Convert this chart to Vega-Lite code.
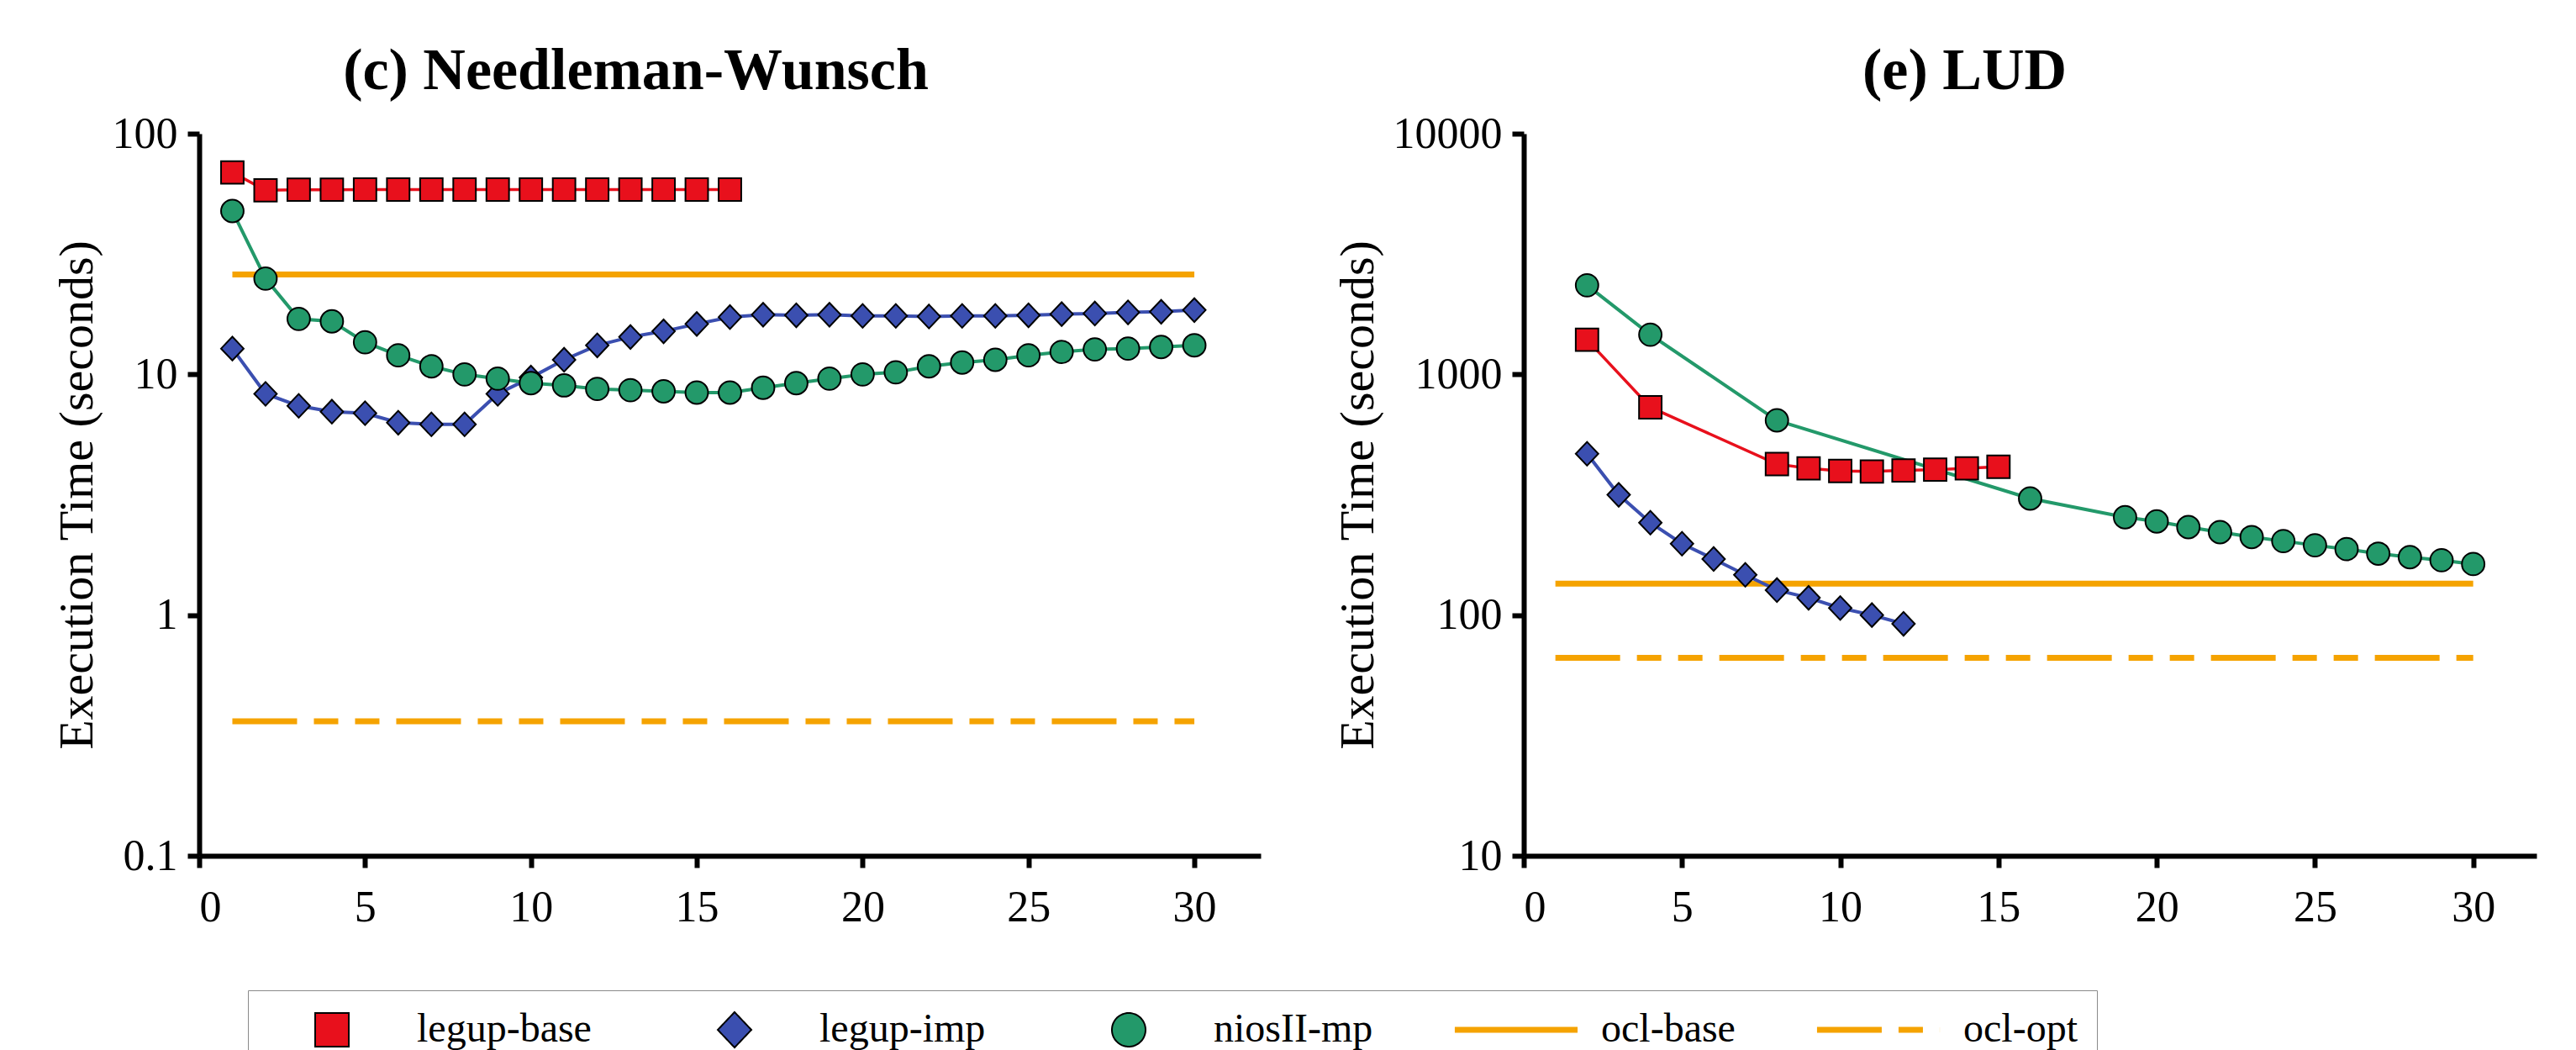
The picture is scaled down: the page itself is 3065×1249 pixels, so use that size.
{
  "$schema": "https://vega.github.io/schema/vega-lite/v6.json",
  "padding": {"left": 63, "top": 50, "right": 5, "bottom": 0},
  "background": "white",
  "config": {
    "font": "Liberation Serif",
    "view": {"stroke": null},
    "axis": {
      "domainColor": "black", "domainWidth": 6, "tickColor": "black", "tickWidth": 6, "tickSize": 14,
      "labelFont": "Liberation Serif", "labelFontSize": 52, "labelColor": "black", "labelPadding": 12,
      "titleFont": "Liberation Serif", "titleFontSize": 58, "titleFontWeight": "normal", "titleColor": "black", "titlePadding": 12,
      "grid": false
    },
    "title": {"font": "Liberation Serif", "fontSize": 70, "fontWeight": "bold", "color": "black", "anchor": "middle", "frame": "bounds", "offset": 12}
  },
  "datasets": {
    "nw": [
      {"series": "legup-base", "threads": 1, "time": 69},
      {"series": "legup-base", "threads": 2, "time": 58.2},
      {"series": "legup-base", "threads": 3, "time": 58.5},
      {"series": "legup-base", "threads": 4, "time": 58.5},
      {"series": "legup-base", "threads": 5, "time": 58.6},
      {"series": "legup-base", "threads": 6, "time": 58.6},
      {"series": "legup-base", "threads": 7, "time": 58.6},
      {"series": "legup-base", "threads": 8, "time": 58.6},
      {"series": "legup-base", "threads": 9, "time": 58.6},
      {"series": "legup-base", "threads": 10, "time": 58.6},
      {"series": "legup-base", "threads": 11, "time": 58.6},
      {"series": "legup-base", "threads": 12, "time": 58.6},
      {"series": "legup-base", "threads": 13, "time": 58.6},
      {"series": "legup-base", "threads": 14, "time": 58.6},
      {"series": "legup-base", "threads": 15, "time": 58.6},
      {"series": "legup-base", "threads": 16, "time": 58.6},
      {"series": "legup-imp", "threads": 1, "time": 12.8},
      {"series": "legup-imp", "threads": 2, "time": 8.3},
      {"series": "legup-imp", "threads": 3, "time": 7.4},
      {"series": "legup-imp", "threads": 4, "time": 7.0},
      {"series": "legup-imp", "threads": 5, "time": 6.9},
      {"series": "legup-imp", "threads": 6, "time": 6.3},
      {"series": "legup-imp", "threads": 7, "time": 6.2},
      {"series": "legup-imp", "threads": 8, "time": 6.2},
      {"series": "legup-imp", "threads": 9, "time": 8.3},
      {"series": "legup-imp", "threads": 10, "time": 9.7},
      {"series": "legup-imp", "threads": 11, "time": 11.5},
      {"series": "legup-imp", "threads": 12, "time": 13.2},
      {"series": "legup-imp", "threads": 13, "time": 14.3},
      {"series": "legup-imp", "threads": 14, "time": 15.1},
      {"series": "legup-imp", "threads": 15, "time": 16.2},
      {"series": "legup-imp", "threads": 16, "time": 17.3},
      {"series": "legup-imp", "threads": 17, "time": 17.7},
      {"series": "legup-imp", "threads": 18, "time": 17.6},
      {"series": "legup-imp", "threads": 19, "time": 17.7},
      {"series": "legup-imp", "threads": 20, "time": 17.5},
      {"series": "legup-imp", "threads": 21, "time": 17.5},
      {"series": "legup-imp", "threads": 22, "time": 17.4},
      {"series": "legup-imp", "threads": 23, "time": 17.5},
      {"series": "legup-imp", "threads": 24, "time": 17.5},
      {"series": "legup-imp", "threads": 25, "time": 17.6},
      {"series": "legup-imp", "threads": 26, "time": 17.8},
      {"series": "legup-imp", "threads": 27, "time": 17.9},
      {"series": "legup-imp", "threads": 28, "time": 18.1},
      {"series": "legup-imp", "threads": 29, "time": 18.2},
      {"series": "legup-imp", "threads": 30, "time": 18.5},
      {"series": "niosII-mp", "threads": 1, "time": 47.7},
      {"series": "niosII-mp", "threads": 2, "time": 25.0},
      {"series": "niosII-mp", "threads": 3, "time": 17.0},
      {"series": "niosII-mp", "threads": 4, "time": 16.6},
      {"series": "niosII-mp", "threads": 5, "time": 13.6},
      {"series": "niosII-mp", "threads": 6, "time": 12.0},
      {"series": "niosII-mp", "threads": 7, "time": 10.8},
      {"series": "niosII-mp", "threads": 8, "time": 10.0},
      {"series": "niosII-mp", "threads": 9, "time": 9.6},
      {"series": "niosII-mp", "threads": 10, "time": 9.2},
      {"series": "niosII-mp", "threads": 11, "time": 9.0},
      {"series": "niosII-mp", "threads": 12, "time": 8.7},
      {"series": "niosII-mp", "threads": 13, "time": 8.6},
      {"series": "niosII-mp", "threads": 14, "time": 8.5},
      {"series": "niosII-mp", "threads": 15, "time": 8.4},
      {"series": "niosII-mp", "threads": 16, "time": 8.4},
      {"series": "niosII-mp", "threads": 17, "time": 8.8},
      {"series": "niosII-mp", "threads": 18, "time": 9.2},
      {"series": "niosII-mp", "threads": 19, "time": 9.6},
      {"series": "niosII-mp", "threads": 20, "time": 10.0},
      {"series": "niosII-mp", "threads": 21, "time": 10.2},
      {"series": "niosII-mp", "threads": 22, "time": 10.8},
      {"series": "niosII-mp", "threads": 23, "time": 11.2},
      {"series": "niosII-mp", "threads": 24, "time": 11.5},
      {"series": "niosII-mp", "threads": 25, "time": 12.0},
      {"series": "niosII-mp", "threads": 26, "time": 12.4},
      {"series": "niosII-mp", "threads": 27, "time": 12.7},
      {"series": "niosII-mp", "threads": 28, "time": 12.8},
      {"series": "niosII-mp", "threads": 29, "time": 13.0},
      {"series": "niosII-mp", "threads": 30, "time": 13.2}
    ],
    "nw_ocl": [
      {"series": "ocl-base", "threads": 1, "time": 26},
      {"series": "ocl-base", "threads": 30, "time": 26},
      {"series": "ocl-opt", "threads": 1, "time": 0.362},
      {"series": "ocl-opt", "threads": 30, "time": 0.362}
    ],
    "lud": [
      {"series": "legup-base", "threads": 2, "time": 1393},
      {"series": "legup-base", "threads": 4, "time": 730},
      {"series": "legup-base", "threads": 8, "time": 424},
      {"series": "legup-base", "threads": 9, "time": 407},
      {"series": "legup-base", "threads": 10, "time": 397},
      {"series": "legup-base", "threads": 11, "time": 395},
      {"series": "legup-base", "threads": 12, "time": 399},
      {"series": "legup-base", "threads": 13, "time": 402},
      {"series": "legup-base", "threads": 14, "time": 407},
      {"series": "legup-base", "threads": 15, "time": 413},
      {"series": "legup-imp", "threads": 2, "time": 468},
      {"series": "legup-imp", "threads": 3, "time": 316},
      {"series": "legup-imp", "threads": 4, "time": 242},
      {"series": "legup-imp", "threads": 5, "time": 198},
      {"series": "legup-imp", "threads": 6, "time": 171},
      {"series": "legup-imp", "threads": 7, "time": 147},
      {"series": "legup-imp", "threads": 8, "time": 127},
      {"series": "legup-imp", "threads": 9, "time": 118},
      {"series": "legup-imp", "threads": 10, "time": 107},
      {"series": "legup-imp", "threads": 11, "time": 100},
      {"series": "legup-imp", "threads": 12, "time": 92},
      {"series": "niosII-mp", "threads": 2, "time": 2345},
      {"series": "niosII-mp", "threads": 4, "time": 1462},
      {"series": "niosII-mp", "threads": 8, "time": 644},
      {"series": "niosII-mp", "threads": 16, "time": 305},
      {"series": "niosII-mp", "threads": 19, "time": 255},
      {"series": "niosII-mp", "threads": 20, "time": 245},
      {"series": "niosII-mp", "threads": 21, "time": 232},
      {"series": "niosII-mp", "threads": 22, "time": 221},
      {"series": "niosII-mp", "threads": 23, "time": 211},
      {"series": "niosII-mp", "threads": 24, "time": 203},
      {"series": "niosII-mp", "threads": 25, "time": 195},
      {"series": "niosII-mp", "threads": 26, "time": 188},
      {"series": "niosII-mp", "threads": 27, "time": 180},
      {"series": "niosII-mp", "threads": 28, "time": 174},
      {"series": "niosII-mp", "threads": 29, "time": 169},
      {"series": "niosII-mp", "threads": 30, "time": 163}
    ],
    "lud_ocl": [
      {"series": "ocl-base", "threads": 1, "time": 135},
      {"series": "ocl-base", "threads": 30, "time": 135},
      {"series": "ocl-opt", "threads": 1, "time": 66.5},
      {"series": "ocl-opt", "threads": 30, "time": 66.5}
    ]
  },
  "resolve": {
    "scale": {"stroke": "shared", "strokeDash": "shared", "strokeWidth": "shared", "fill": "shared", "shape": "shared", "x": "independent", "y": "independent"},
    "legend": {"stroke": "shared", "strokeDash": "shared", "strokeWidth": "shared", "fill": "shared", "shape": "shared"}
  },
  "spacing": 87,
  "hconcat": [
    {
      "width": 1263, "height": 859,
      "title": {"text": "(c) Needleman-Wunsch", "dx": -25},
      "layer": [
        {
          "data": {"name": "nw_ocl"},
          "mark": {"type": "line", "strokeCap": "butt"},
          "encoding": {
            "x": {"field": "threads", "type": "quantitative", "scale": {"domain": [0, 32], "nice": false}, "axis": {"values": [0, 5, 10, 15, 20, 25, 30], "title": null, "labelPadding": 22}},
            "y": {"field": "time", "type": "quantitative", "scale": {"type": "log", "domain": [0.1, 100], "nice": false}, "axis": {"values": [0.1, 1, 10, 100], "format": "~g", "title": "Execution Time (seconds)"}},
            "stroke": {"field": "series", "type": "nominal", "scale": {"domain": ["legup-base", "legup-imp", "niosII-mp", "ocl-base", "ocl-opt"], "range": ["black", "black", "black", "#f5a300", "#f5a300"]}},
            "strokeDash": {"field": "series", "type": "nominal", "scale": {"domain": ["legup-base", "legup-imp", "niosII-mp", "ocl-base", "ocl-opt"], "range": [[1, 0], [1, 0], [1, 0], [1, 0], [77, 20, 29, 20, 29, 20]]}},
            "strokeWidth": {"field": "series", "type": "nominal", "scale": {"type": "ordinal", "domain": ["legup-base", "legup-imp", "niosII-mp", "ocl-base", "ocl-opt"], "range": [2, 2, 2, 7, 7]}}
          }
        },
        {
          "data": {"name": "nw"},
          "transform": [{"filter": "datum.series === 'legup-base'"}],
          "mark": {"type": "line", "color": "#e8101c", "strokeWidth": 3.5},
          "encoding": {"x": {"field": "threads", "type": "quantitative"}, "y": {"field": "time", "type": "quantitative"}}
        },
        {
          "data": {"name": "nw"},
          "transform": [{"filter": "datum.series === 'legup-imp'"}],
          "mark": {"type": "line", "color": "#3b4fb0", "strokeWidth": 4},
          "encoding": {"x": {"field": "threads", "type": "quantitative"}, "y": {"field": "time", "type": "quantitative"}}
        },
        {
          "data": {"name": "nw"},
          "transform": [{"filter": "datum.series === 'niosII-mp'"}],
          "mark": {"type": "line", "color": "#23996a", "strokeWidth": 4},
          "encoding": {"x": {"field": "threads", "type": "quantitative"}, "y": {"field": "time", "type": "quantitative"}}
        },
        {
          "data": {"name": "nw"},
          "mark": {"type": "point", "filled": true, "opacity": 1, "size": 800},
          "encoding": {
            "x": {"field": "threads", "type": "quantitative"},
            "y": {"field": "time", "type": "quantitative"},
            "fill": {
              "field": "series", "type": "nominal",
              "scale": {"domain": ["legup-base", "legup-imp", "niosII-mp", "ocl-base", "ocl-opt"], "range": ["#e8101c", "#3b4fb0", "#23996a", "transparent", "transparent"]},
              "legend": {
                "orient": "none", "legendX": 58, "legendY": 1019,
                "direction": "horizontal", "columns": 5, "title": null,
                "symbolSize": 1773, "symbolOffset": 52, "clipHeight": 48,
                "labelFont": "Liberation Serif", "labelFontSize": 48, "labelColor": "black", "labelOffset": 76, "labelLimit": 600,
                "columnPadding": 93, "padding": 23, "strokeColor": "#8a8a8a"
              }
            },
            "shape": {"field": "series", "type": "nominal", "scale": {"domain": ["legup-base", "legup-imp", "niosII-mp", "ocl-base", "ocl-opt"], "range": ["M-0.95,-0.95H0.95V0.95H-0.95Z", "M0,-1L0.95,0L0,1L-0.95,0Z", "M-0.95,0A0.95,0.95 0 1,0 0.95,0A0.95,0.95 0 1,0 -0.95,0Z", "M-3.47,0H3.47", "M-3.47,0H3.47"]}},
            "stroke": {"field": "series", "type": "nominal", "scale": {"domain": ["legup-base", "legup-imp", "niosII-mp", "ocl-base", "ocl-opt"], "range": ["black", "black", "black", "#f5a300", "#f5a300"]}},
            "strokeWidth": {"field": "series", "type": "nominal", "scale": {"type": "ordinal", "domain": ["legup-base", "legup-imp", "niosII-mp", "ocl-base", "ocl-opt"], "range": [2, 2, 2, 7, 7]}}
          }
        }
      ]
    },
    {
      "width": 1205, "height": 859,
      "title": {"text": "(e) LUD", "dx": 35},
      "layer": [
        {
          "data": {"name": "lud_ocl"},
          "mark": {"type": "line", "strokeCap": "butt"},
          "encoding": {
            "x": {"field": "threads", "type": "quantitative", "scale": {"domain": [0, 32], "nice": false}, "axis": {"values": [0, 5, 10, 15, 20, 25, 30], "title": null, "labelPadding": 22}},
            "y": {"field": "time", "type": "quantitative", "scale": {"type": "log", "domain": [10, 10000], "nice": false}, "axis": {"values": [10, 100, 1000, 10000], "format": "~g", "title": "Execution Time (seconds)"}},
            "stroke": {"field": "series", "type": "nominal", "scale": {"domain": ["legup-base", "legup-imp", "niosII-mp", "ocl-base", "ocl-opt"], "range": ["black", "black", "black", "#f5a300", "#f5a300"]}},
            "strokeDash": {"field": "series", "type": "nominal", "scale": {"domain": ["legup-base", "legup-imp", "niosII-mp", "ocl-base", "ocl-opt"], "range": [[1, 0], [1, 0], [1, 0], [1, 0], [77, 20, 29, 20, 29, 20]]}},
            "strokeWidth": {"field": "series", "type": "nominal", "scale": {"type": "ordinal", "domain": ["legup-base", "legup-imp", "niosII-mp", "ocl-base", "ocl-opt"], "range": [2, 2, 2, 7, 7]}}
          }
        },
        {
          "data": {"name": "lud"},
          "transform": [{"filter": "datum.series === 'legup-base'"}],
          "mark": {"type": "line", "color": "#e8101c", "strokeWidth": 3.5},
          "encoding": {"x": {"field": "threads", "type": "quantitative"}, "y": {"field": "time", "type": "quantitative"}}
        },
        {
          "data": {"name": "lud"},
          "transform": [{"filter": "datum.series === 'legup-imp'"}],
          "mark": {"type": "line", "color": "#3b4fb0", "strokeWidth": 4},
          "encoding": {"x": {"field": "threads", "type": "quantitative"}, "y": {"field": "time", "type": "quantitative"}}
        },
        {
          "data": {"name": "lud"},
          "transform": [{"filter": "datum.series === 'niosII-mp'"}],
          "mark": {"type": "line", "color": "#23996a", "strokeWidth": 4},
          "encoding": {"x": {"field": "threads", "type": "quantitative"}, "y": {"field": "time", "type": "quantitative"}}
        },
        {
          "data": {"name": "lud"},
          "mark": {"type": "point", "filled": true, "opacity": 1, "size": 800},
          "encoding": {
            "x": {"field": "threads", "type": "quantitative"},
            "y": {"field": "time", "type": "quantitative"},
            "fill": {"field": "series", "type": "nominal", "scale": {"domain": ["legup-base", "legup-imp", "niosII-mp", "ocl-base", "ocl-opt"], "range": ["#e8101c", "#3b4fb0", "#23996a", "transparent", "transparent"]}},
            "shape": {"field": "series", "type": "nominal", "scale": {"domain": ["legup-base", "legup-imp", "niosII-mp", "ocl-base", "ocl-opt"], "range": ["M-0.95,-0.95H0.95V0.95H-0.95Z", "M0,-1L0.95,0L0,1L-0.95,0Z", "M-0.95,0A0.95,0.95 0 1,0 0.95,0A0.95,0.95 0 1,0 -0.95,0Z", "M-3.47,0H3.47", "M-3.47,0H3.47"]}},
            "stroke": {"field": "series", "type": "nominal", "scale": {"domain": ["legup-base", "legup-imp", "niosII-mp", "ocl-base", "ocl-opt"], "range": ["black", "black", "black", "#f5a300", "#f5a300"]}},
            "strokeWidth": {"field": "series", "type": "nominal", "scale": {"type": "ordinal", "domain": ["legup-base", "legup-imp", "niosII-mp", "ocl-base", "ocl-opt"], "range": [2, 2, 2, 7, 7]}}
          }
        }
      ]
    }
  ]
}
